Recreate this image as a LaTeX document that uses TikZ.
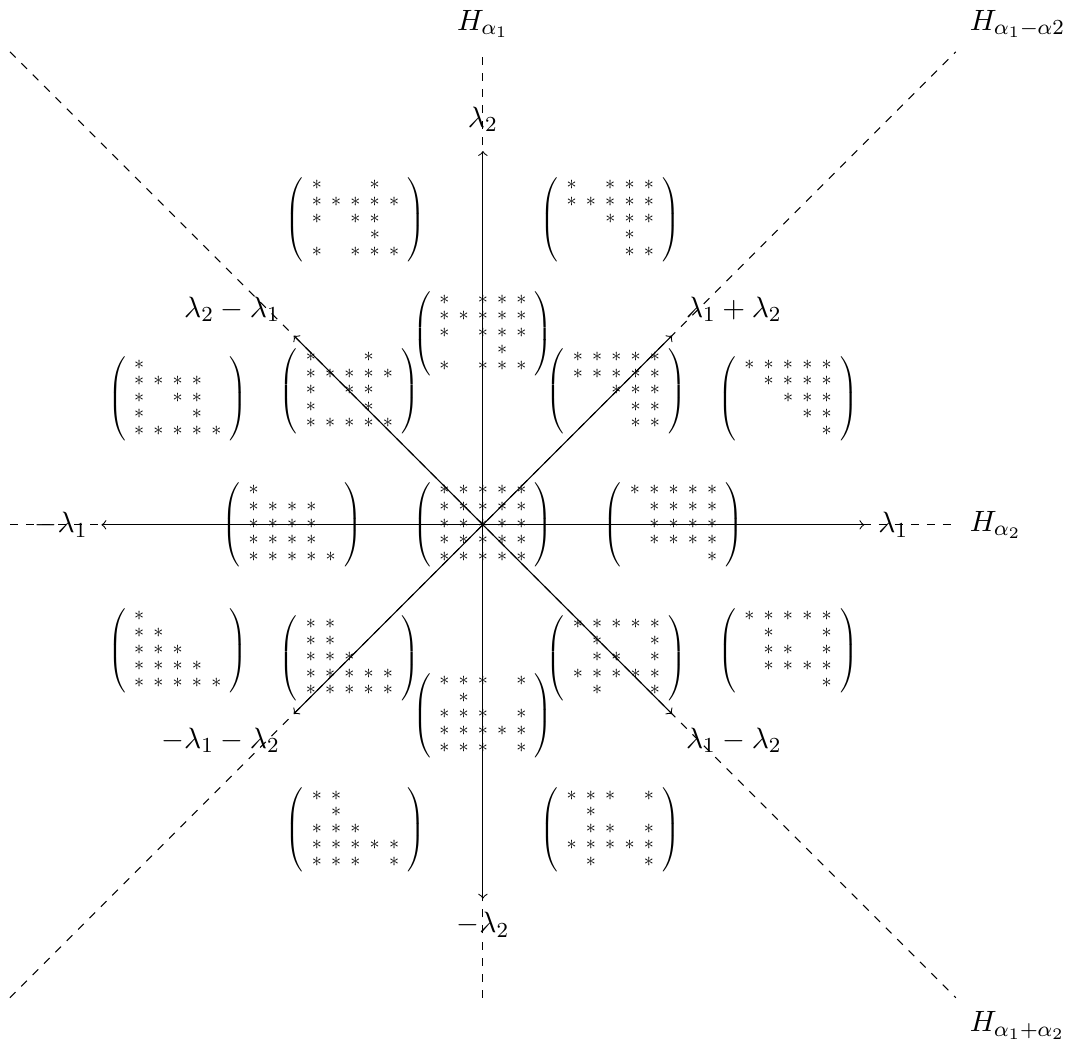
\documentclass[tikz,border=0pt]{standalone}
\usepackage{amsmath}
\tikzset{
  mat/.style={scale=0.75, transform shape, inner sep=0pt},
  axisarrow/.style={->, line width=0.4pt},
  hyp/.style={dashed, line width=0.4pt},
  lab/.style={inner sep=5pt, font=\fontsize{10.95}{13.6}\selectfont}
}
\newcommand{\wm}[1]{{\arraycolsep=2.3pt\renewcommand{\arraystretch}{0.69}$\left(\begin{array}{@{\hspace{4.2pt}}ccccc@{\hspace{4.2pt}}}#1\end{array}\right)$}}
\begin{document}
\begin{tikzpicture}
\useasboundingbox (-6.33,-6.80) rectangle (7.67,6.88);
\coordinate (O) at (0,0);
% hyperplane ends
\coordinate (hL) at (-6.2,0);
\coordinate (hR) at (6.2,0);
\coordinate (vT) at (0,6.2);
\coordinate (vB) at (0,-6.2);
\coordinate (dTR) at (6.2,6.2);
\coordinate (dBL) at (-6.2,-6.2);
\coordinate (dTL) at (-6.2,6.2);
\coordinate (dBR) at (6.2,-6.2);
\draw[hyp] (hL) -- (hR);
\draw[hyp] (vB) -- (vT);
\draw[hyp] (dBL) -- (dTR);
\draw[hyp] (dTL) -- (dBR);
\node[lab, above] (Ha1) at (vT) {$H_{\alpha_1}$};
\node[lab, above right] (Ha1ma2) at (dTR) {$H_{\alpha_1-\alpha2}$};
\node[lab, right] (Ha2) at (hR) {$H_{\alpha_2}$};
\node[lab, below right] (Ha1pa2) at (dBR) {$H_{\alpha_1+\alpha_2}$};
% weights
\coordinate (l1) at (5,0);
\coordinate (ml1) at (-5,0);
\coordinate (l2) at (0,4.9);
\coordinate (ml2) at (0,-4.9);
\coordinate (l1pl2) at (2.48,2.48);
\coordinate (l2ml1) at (-2.48,2.48);
\coordinate (ml1ml2) at (-2.48,-2.48);
\coordinate (l1ml2) at (2.48,-2.48);
\draw[axisarrow] (O) -- (l1);
\draw[axisarrow] (O) -- (ml1);
\draw[axisarrow] (O) -- (l2);
\draw[axisarrow] (O) -- (ml2);
\draw[axisarrow] (O) -- (l1pl2);
\draw[axisarrow] (O) -- (l2ml1);
\draw[axisarrow] (O) -- (ml1ml2);
\draw[axisarrow] (O) -- (l1ml2);
\node[lab, right] (tl1) at (l1) {$\lambda_1$};
\node[lab, left] (tml1) at (ml1) {$-\lambda_1$};
\node[lab, above, yshift=2pt] (tl2) at (l2) {$\lambda_2$};
\node[lab, below] (tml2) at (ml2) {$-\lambda_2$};
\node[lab, above right] (tl1pl2) at (l1pl2) {$\lambda_1+\lambda_2$};
\node[lab, above left] (tl2ml1) at (l2ml1) {$\lambda_2-\lambda_1$};
\node[lab, below left] (tml1ml2) at (ml1ml2) {$-\lambda_1-\lambda_2$};
\node[lab, below right] (tl1ml2) at (l1ml2) {$\lambda_1-\lambda_2$};
% matrices
\node[mat] (TL) at (-1.67,4) {\wm{* & & & * & \\ * & * & * & * & * \\ * & & * & * & \\ & & & * & \\ * & & * & * & *}};
\node[mat] (TR) at (1.67,4) {\wm{* & & * & * & * \\ * & * & * & * & * \\ & & * & * & * \\ & & & * & \\ & & & * & *}};
\node[mat] (UC) at (0,2.5) {\wm{* & & * & * & * \\ * & * & * & * & * \\ * & & * & * & * \\ & & & * & \\ * & & * & * & *}};
\node[mat] (LF2) at (-4,1.65) {\wm{* & & & & \\ * & * & * & * & \\ * & & * & * & \\ * & & & * & \\ * & * & * & * & *}};
\node[mat] (LN2) at (-1.75,1.75) {\wm{* & & & * & \\ * & * & * & * & * \\ * & & * & * & \\ * & & & * & \\ * & * & * & * & *}};
\node[mat] (RN2) at (1.75,1.75) {\wm{* & * & * & * & * \\ * & * & * & * & * \\ & & * & * & * \\ & & & * & * \\ & & & * & *}};
\node[mat] (RF2) at (4,1.65) {\wm{* & * & * & * & * \\ & * & * & * & * \\ & & * & * & * \\ & & & * & * \\ & & & & *}};
\node[mat] (ML) at (-2.5,0) {\wm{* & & & & \\ * & * & * & * & \\ * & * & * & * & \\ * & * & * & * & \\ * & * & * & * & *}};
\node[mat] (MC) at (0,0) {\wm{* & * & * & * & * \\ * & * & * & * & * \\ * & * & * & * & * \\ * & * & * & * & * \\ * & * & * & * & *}};
\node[mat] (MR) at (2.5,0) {\wm{* & * & * & * & * \\ & * & * & * & * \\ & * & * & * & * \\ & * & * & * & * \\ & & & & *}};
\node[mat] (LF4) at (-4,-1.65) {\wm{* & & & & \\ * & * & & & \\ * & * & * & & \\ * & * & * & * & \\ * & * & * & * & *}};
\node[mat] (LN4) at (-1.75,-1.75) {\wm{* & * & & & \\ * & * & & & \\ * & * & * & & \\ * & * & * & * & * \\ * & * & * & * & *}};
\node[mat] (RN4) at (1.75,-1.75) {\wm{* & * & * & * & * \\ & * & & & * \\ & * & * & & * \\ * & * & * & * & * \\ & * & & & *}};
\node[mat] (RF4) at (4,-1.65) {\wm{* & * & * & * & * \\ & * & & & * \\ & * & * & & * \\ & * & * & * & * \\ & & & & *}};
\node[mat] (LC) at (0,-2.5) {\wm{* & * & * & & * \\ & * & & & \\ * & * & * & & * \\ * & * & * & * & * \\ * & * & * & & *}};
\node[mat] (BL) at (-1.67,-4) {\wm{* & * & & & \\ & * & & & \\ * & * & * & & \\ * & * & * & * & * \\ * & * & * & & *}};
\node[mat] (BR) at (1.67,-4) {\wm{* & * & * & & * \\ & * & & & \\ & * & * & & * \\ * & * & * & * & * \\ & * & & & *}};
\end{tikzpicture}
\end{document}
